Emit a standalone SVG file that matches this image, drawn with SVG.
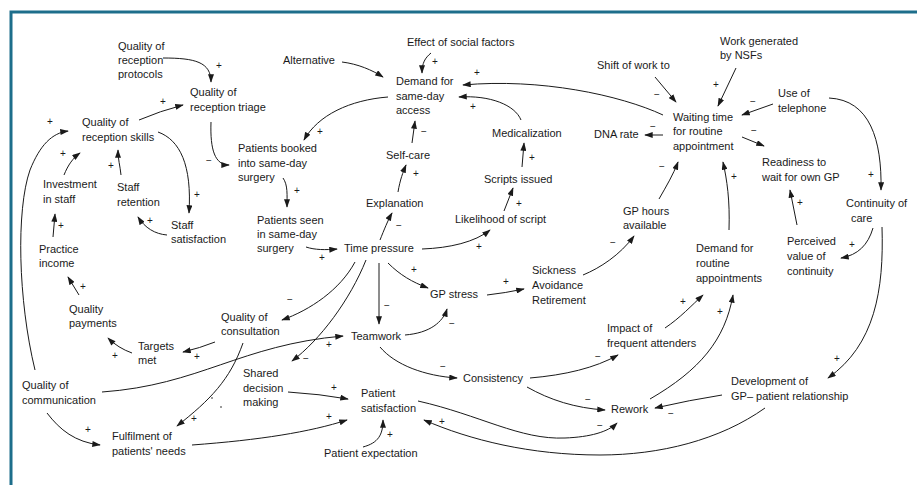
<svg xmlns="http://www.w3.org/2000/svg" width="917" height="485" viewBox="0 0 917 485">
<defs>
<marker id="ah" viewBox="0 0 10 7" refX="9" refY="3.5" markerUnits="userSpaceOnUse" markerWidth="9" markerHeight="6" orient="auto">
<path d="M0,0 L10,3.5 L0,7 z" fill="#1a1a1a"/>
</marker>
<style>
.t{font-family:"Liberation Sans",Arial,sans-serif;font-size:11px;fill:#1a1a1a}
.s{font-family:"Liberation Sans",Arial,sans-serif;font-size:10px;fill:#1a1a1a;text-anchor:middle}
.c{fill:none;stroke:#1a1a1a;stroke-width:1;marker-end:url(#ah)}
.frame{fill:none;stroke:#1d6e8b;stroke-width:3}
</style>
</defs>
<rect width="917" height="485" fill="#fff"/>
<path class="frame" d="M11,485 L11,12 L917,12"/>

<g id="connectors">
<path class="c" d="M163,58 C195,58 211,62 211,82"/>
<path class="c" d="M139,120 Q160,111 183,105"/>
<path class="c" d="M211,122 C210,150 215,165 229,165"/>
<path class="c" d="M158,132 C180,140 192,165 189,213"/>
<path class="c" d="M167,235 C155,234 145,228 138,217"/>
<path class="c" d="M121,175 C120,165 118,160 118,150"/>
<path class="c" d="M64,175 C68,165 73,158 80,153"/>
<path class="c" d="M53,237 L55,214"/>
<path class="c" d="M79,295 L68,277"/>
<path class="c" d="M132,353 Q118,348 108,338"/>
<path class="c" d="M215,342 Q200,348 183,352"/>
<path class="c" d="M35,370 C18,300 16,210 30,170 C40,145 52,133 68,131"/>
<path class="c" d="M102,392 C200,385 240,345 343,336"/>
<path class="c" d="M47,413 C60,430 75,442 100,445"/>
<path class="c" d="M243,343 C230,380 210,400 177,426"/>
<path class="c" d="M192,445 C260,440 310,432 347,420"/>
<path class="c" d="M288,392 Q320,394 348,399"/>
<path class="c" d="M366,260 C350,300 320,340 292,361"/>
<path class="c" d="M355,262 C340,290 310,310 282,320"/>
<path class="c" d="M379,263 L379,324"/>
<path class="c" d="M388,263 C400,275 412,282 428,288"/>
<path class="c" d="M405,335 C430,333 443,322 447,309"/>
<path class="c" d="M380,347 C395,365 425,376 457,378"/>
<path class="c" d="M487,295 Q505,293 524,289"/>
<path class="c" d="M583,275 C600,268 620,255 634,236"/>
<path class="c" d="M659,199 C667,185 673,175 678,162"/>
<path class="c" d="M729,230 C730,200 727,180 723,162"/>
<path class="c" d="M665,328 C680,318 692,305 703,295"/>
<path class="c" d="M650,399 C700,370 725,340 733,295"/>
<path class="c" d="M530,378 C565,375 595,368 618,355"/>
<path class="c" d="M527,387 C550,400 575,408 605,410"/>
<path class="c" d="M418,401 C480,415 520,440 565,438 C590,437 608,432 617,423"/>
<path class="c" d="M722,395 Q690,400 655,408"/>
<path class="c" d="M765,408 C720,440 660,455 600,455 C530,455 470,440 424,420"/>
<path class="c" d="M363,447 C378,443 383,435 383,420"/>
<path class="c" d="M882,227 C884,290 875,345 828,378"/>
<path class="c" d="M873,228 C868,245 858,255 841,258"/>
<path class="c" d="M829,98 C870,100 882,140 881,190"/>
<path class="c" d="M773,104 L742,115"/>
<path class="c" d="M736,68 L718,106"/>
<path class="c" d="M655,77 L676,102"/>
<path class="c" d="M663,135 L645,135"/>
<path class="c" d="M742,137 L764,146"/>
<path class="c" d="M797,225 L790,190"/>
<path class="c" d="M663,115 C620,95 540,78 463,85"/>
<path class="c" d="M521,120 C515,105 490,95 459,97"/>
<path class="c" d="M431,53 C425,58 422,63 422,73"/>
<path class="c" d="M342,62 C358,64 372,70 383,77"/>
<path class="c" d="M388,97 C350,100 318,115 304,140"/>
<path class="c" d="M412,143 L415,121"/>
<path class="c" d="M398,192 C400,180 403,172 406,165"/>
<path class="c" d="M380,240 C384,230 388,220 392,213"/>
<path class="c" d="M422,249 C450,248 475,242 490,230"/>
<path class="c" d="M504,211 L513,188"/>
<path class="c" d="M522,167 L524,143"/>
<path class="c" d="M283,178 C288,185 287,195 287,207"/>
<path class="c" d="M306,247 C315,250 325,250 337,249"/>
<circle cx="212" cy="398" r="0.8" fill="#1a1a1a"/>
<circle cx="221" cy="407" r="0.8" fill="#1a1a1a"/>
<g id="polarities">
<text class="s" x="219" y="69">+</text>
<text class="s" x="163" y="105">+</text>
<text class="s" x="209" y="164">−</text>
<text class="s" x="197" y="198">+</text>
<text class="s" x="150" y="224">+</text>
<text class="s" x="111" y="169">+</text>
<text class="s" x="63" y="157">+</text>
<text class="s" x="61" y="229">+</text>
<text class="s" x="83" y="290">+</text>
<text class="s" x="115" y="359">+</text>
<text class="s" x="197" y="360">+</text>
<text class="s" x="50" y="125">+</text>
<text class="s" x="329" y="348">+</text>
<text class="s" x="88" y="433">+</text>
<text class="s" x="194" y="422">+</text>
<text class="s" x="329" y="420">+</text>
<text class="s" x="334" y="391">+</text>
<text class="s" x="306" y="362">−</text>
<text class="s" x="290" y="303">−</text>
<text class="s" x="387" y="309">−</text>
<text class="s" x="414" y="273">+</text>
<text class="s" x="452" y="327">−</text>
<text class="s" x="443" y="370">−</text>
<text class="s" x="506" y="285">+</text>
<text class="s" x="613" y="246">−</text>
<text class="s" x="662" y="170">−</text>
<text class="s" x="734" y="180">+</text>
<text class="s" x="683" y="305">+</text>
<text class="s" x="720" y="315">+</text>
<text class="s" x="598" y="360">−</text>
<text class="s" x="588" y="403">−</text>
<text class="s" x="600" y="429">−</text>
<text class="s" x="671" y="417">−</text>
<text class="s" x="442" y="425">+</text>
<text class="s" x="390" y="438">+</text>
<text class="s" x="837" y="362">+</text>
<text class="s" x="852" y="248">+</text>
<text class="s" x="871" y="178">+</text>
<text class="s" x="753" y="105">−</text>
<text class="s" x="716" y="88">+</text>
<text class="s" x="657" y="98">−</text>
<text class="s" x="653" y="130">−</text>
<text class="s" x="754" y="134">−</text>
<text class="s" x="800" y="206">+</text>
<text class="s" x="477" y="76">+</text>
<text class="s" x="473" y="110">+</text>
<text class="s" x="435" y="65">+</text>
<text class="s" x="320" y="135">+</text>
<text class="s" x="424" y="135">−</text>
<text class="s" x="416" y="177">+</text>
<text class="s" x="399" y="229">−</text>
<text class="s" x="479" y="250">+</text>
<text class="s" x="519" y="207">+</text>
<text class="s" x="532" y="161">+</text>
<text class="s" x="297" y="194">+</text>
<text class="s" x="322" y="261">+</text>
</g>
</g>

<g id="n1"><text class="t"><tspan x="118" y="50">Quality of</tspan><tspan x="118" y="64">reception</tspan><tspan x="118" y="78">protocols</tspan></text></g>
<g id="n2"><text class="t"><tspan x="190" y="96">Quality of</tspan><tspan x="190" y="111">reception triage</tspan></text></g>
<g id="n3"><text class="t"><tspan x="82" y="126">Quality of</tspan><tspan x="82" y="141">reception skills</tspan></text></g>
<g id="n4"><text class="t" x="283" y="64">Alternative</text></g>
<g id="n5"><text class="t" x="407" y="46">Effect of social factors</text></g>
<g id="n6"><text class="t"><tspan x="396" y="85">Demand for</tspan><tspan x="396" y="100">same-day</tspan><tspan x="396" y="114">access</tspan></text></g>
<g id="n7"><text class="t"><tspan x="238" y="152">Patients booked</tspan><tspan x="238" y="167">into same-day</tspan><tspan x="238" y="181">surgery</tspan></text></g>
<g id="n8"><text class="t" x="386" y="159">Self-care</text></g>
<g id="n9"><text class="t" x="492" y="137">Medicalization</text></g>
<g id="n10"><text class="t" x="597" y="69">Shift of work to</text></g>
<g id="n11"><text class="t"><tspan x="720" y="45">Work generated</tspan><tspan x="720" y="59">by NSFs</tspan></text></g>
<g id="n12"><text class="t"><tspan x="778" y="97">Use of</tspan><tspan x="778" y="112">telephone</tspan></text></g>
<g id="n13"><text class="t"><tspan x="673" y="121">Waiting time</tspan><tspan x="673" y="135">for routine</tspan><tspan x="673" y="150">appointment</tspan></text></g>
<g id="n14"><text class="t" x="594" y="138">DNA rate</text></g>
<g id="n15"><text class="t"><tspan x="762" y="166">Readiness to</tspan><tspan x="762" y="181">wait for own GP</tspan></text></g>
<g id="n16"><text class="t"><tspan x="43" y="188">Investment</tspan><tspan x="43" y="203">in staff</tspan></text></g>
<g id="n17"><text class="t"><tspan x="117" y="191">Staff</tspan><tspan x="117" y="206">retention</tspan></text></g>
<g id="n18"><text class="t"><tspan x="171" y="229">Staff</tspan><tspan x="171" y="243">satisfaction</tspan></text></g>
<g id="n19"><text class="t"><tspan x="39" y="253">Practice</tspan><tspan x="39" y="267">income</tspan></text></g>
<g id="n20"><text class="t"><tspan x="69" y="313">Quality</tspan><tspan x="69" y="327">payments</tspan></text></g>
<g id="n21"><text class="t"><tspan x="257" y="224">Patients seen</tspan><tspan x="257" y="238">in same-day</tspan><tspan x="257" y="252">surgery</tspan></text></g>
<g id="n22"><text class="t"><tspan x="221" y="321">Quality of</tspan><tspan x="221" y="335">consultation</tspan></text></g>
<g id="n23"><text class="t" x="484" y="183">Scripts issued</text></g>
<g id="n24"><text class="t" x="366" y="207">Explanation</text></g>
<g id="n25"><text class="t" x="455" y="223">Likelihood of script</text></g>
<g id="n26"><text class="t" x="344" y="252">Time pressure</text></g>
<g id="n27"><text class="t"><tspan x="532" y="274">Sickness</tspan><tspan x="532" y="289">Avoidance</tspan><tspan x="532" y="304">Retirement</tspan></text></g>
<g id="n28"><text class="t" x="430" y="298">GP stress</text></g>
<g id="n29"><text class="t"><tspan x="623" y="215">GP hours</tspan><tspan x="623" y="229">available</tspan></text></g>
<g id="n30"><text class="t"><tspan x="846" y="207">Continuity of</tspan><tspan x="851" y="222">care</tspan></text></g>
<g id="n31"><text class="t"><tspan x="696" y="252">Demand for</tspan><tspan x="696" y="267">routine</tspan><tspan x="696" y="282">appointments</tspan></text></g>
<g id="n32"><text class="t"><tspan x="787" y="245">Perceived</tspan><tspan x="787" y="260">value of</tspan><tspan x="787" y="275">continuity</tspan></text></g>
<g id="n33"><text class="t"><tspan x="607" y="332">Impact of</tspan><tspan x="607" y="347">frequent attenders</tspan></text></g>
<g id="n34"><text class="t"><tspan x="138" y="350">Targets</tspan><tspan x="138" y="364">met</tspan></text></g>
<g id="n35"><text class="t"><tspan x="22" y="389">Quality of</tspan><tspan x="22" y="404">communication</tspan></text></g>
<g id="n36"><text class="t"><tspan x="243" y="377">Shared</tspan><tspan x="243" y="392">decision</tspan><tspan x="243" y="406">making</tspan></text></g>
<g id="n37"><text class="t"><tspan x="112" y="440">Fulfilment of</tspan><tspan x="112" y="455">patients' needs</tspan></text></g>
<g id="n38"><text class="t" x="351" y="340">Teamwork</text></g>
<g id="n39"><text class="t" x="463" y="382">Consistency</text></g>
<g id="n40"><text class="t"><tspan x="361" y="397">Patient</tspan><tspan x="361" y="412">satisfaction</tspan></text></g>
<g id="n41"><text class="t" x="324" y="457">Patient expectation</text></g>
<g id="n42"><text class="t" x="611" y="413">Rework</text></g>
<g id="n43"><text class="t"><tspan x="731" y="385">Development of</tspan><tspan x="731" y="400">GP– patient relationship</tspan></text></g>
</svg>
